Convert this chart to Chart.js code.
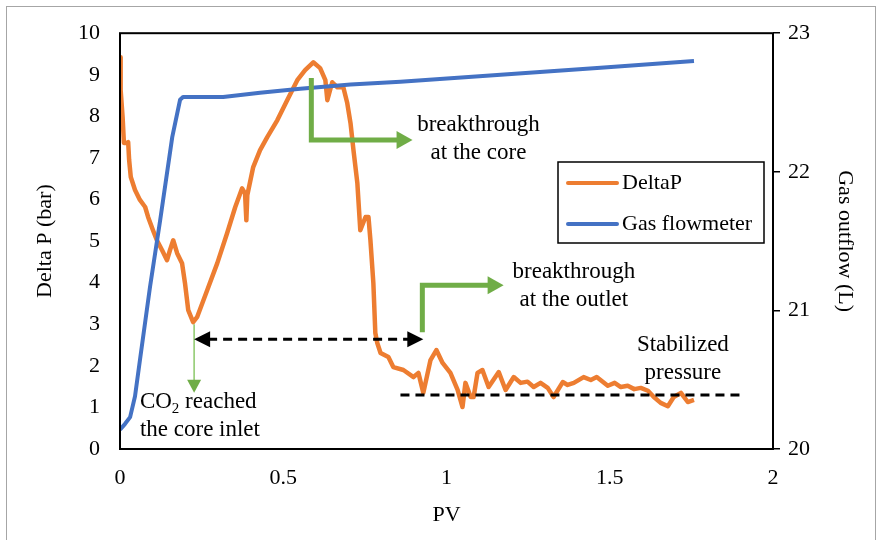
<!DOCTYPE html>
<html><head><meta charset="utf-8">
<script src="https://cdn.jsdelivr.net/npm/chart.js@4.4.1/dist/chart.umd.min.js"></script>
<style>html,body{margin:0;padding:0;background:#fff;} canvas{display:block;}</style>
</head><body>
<canvas id="c" width="882" height="540"></canvas>
<script>
// ---- data ----
const seriesNames = ['DeltaP', 'Gas flowmeter'];
const pvDelta = [0.000,0.002,0.008,0.012,0.021,0.025,0.028,0.033,0.046,0.061,0.077,0.086,0.101,0.113,0.129,0.144,0.153,0.163,0.175,0.190,0.199,0.209,0.224,0.236,0.267,0.298,0.328,0.353,0.374,0.383,0.387,0.390,0.408,0.429,0.451,0.482,0.512,0.543,0.567,0.592,0.613,0.629,0.635,0.650,0.666,0.684,0.696,0.706,0.715,0.727,0.736,0.752,0.761,0.767,0.776,0.782,0.788,0.798,0.822,0.837,0.868,0.899,0.914,0.929,0.951,0.969,0.988,1.012,1.034,1.049,1.058,1.074,1.083,1.095,1.110,1.129,1.160,1.181,1.206,1.227,1.248,1.267,1.288,1.310,1.328,1.356,1.371,1.390,1.420,1.442,1.460,1.494,1.515,1.534,1.555,1.575,1.595,1.617,1.635,1.656,1.678,1.696,1.718,1.739,1.758];
const deltaP = [9.42,8.63,7.98,7.36,7.36,7.38,6.95,6.54,6.23,5.99,5.82,5.58,5.26,5.02,4.78,4.54,4.78,5.02,4.71,4.47,3.99,3.34,3.05,3.17,3.82,4.47,5.19,5.82,6.27,6.15,5.50,6.11,6.78,7.19,7.50,7.91,8.39,8.87,9.11,9.30,9.16,8.87,8.39,8.82,8.70,8.70,8.32,7.84,7.19,6.39,5.26,5.58,5.58,5.02,3.99,2.79,2.55,2.31,2.21,1.97,1.90,1.73,1.83,1.35,2.14,2.38,2.07,1.83,1.42,1.01,1.59,1.25,1.25,1.83,1.90,1.49,1.85,1.42,1.73,1.59,1.62,1.49,1.59,1.47,1.25,1.61,1.54,1.59,1.73,1.66,1.73,1.52,1.59,1.49,1.52,1.44,1.47,1.40,1.25,1.11,1.03,1.25,1.35,1.13,1.18];
const pvGas = [0.000,0.015,0.031,0.046,0.061,0.092,0.123,0.160,0.184,0.193,0.316,0.429,0.552,0.706,0.859,1.166,1.472,1.758];
const gasOutflow = [20.14,20.18,20.23,20.38,20.64,21.17,21.65,22.25,22.52,22.54,22.54,22.57,22.60,22.63,22.65,22.70,22.75,22.80];
const xTickLabels = ['0','0.5','1','1.5','2'];
const leftTickLabels = ['0','1','2','3','4','5','6','7','8','9','10'];
const rightTickLabels = ['20','21','22','23'];

const ORANGE = '#ed7d31', BLUE = '#4472c4', GREEN = '#70ad47';
const SERIF = '"Liberation Serif", "Times New Roman", serif';

function pairs(xs, ys) {
  const n = Math.min(xs.length, ys.length); const out = [];
  for (let i = 0; i < n; i++) out.push({x: xs[i], y: ys[i]});
  return out;
}

function arrowHead(ctx, tx, ty, dir, len, hw, color) {
  ctx.save(); ctx.fillStyle = color; ctx.beginPath();
  if (dir === 'right') { ctx.moveTo(tx, ty); ctx.lineTo(tx - len, ty - hw); ctx.lineTo(tx - len, ty + hw); }
  if (dir === 'left')  { ctx.moveTo(tx, ty); ctx.lineTo(tx + len, ty - hw); ctx.lineTo(tx + len, ty + hw); }
  if (dir === 'down')  { ctx.moveTo(tx, ty); ctx.lineTo(tx - hw, ty - len); ctx.lineTo(tx + hw, ty - len); }
  ctx.closePath(); ctx.fill(); ctx.restore();
}

const framePlugin = {
  id: 'frame',
  beforeDraw(chart) {
    const ctx = chart.ctx;
    ctx.save();
    ctx.fillStyle = '#fff'; ctx.fillRect(0, 0, chart.width, chart.height);
    ctx.strokeStyle = '#a6a6a6'; ctx.lineWidth = 1;
    ctx.strokeRect(6.5, 6.5, 869, 580);
    ctx.restore();
  },
  afterDatasetsDraw(chart) {
    const ctx = chart.ctx, a = chart.chartArea;
    const X = v => chart.scales.x.getPixelForValue(v);
    const Y = v => chart.scales.y.getPixelForValue(v);
    ctx.save();
    // plot frame
    ctx.strokeStyle = '#000'; ctx.lineWidth = 2;
    ctx.strokeRect(a.left, a.top, a.right - a.left, a.bottom - a.top);

    // green elbow arrow: breakthrough at the core
    ctx.strokeStyle = GREEN; ctx.lineWidth = 5; ctx.lineJoin = 'miter'; ctx.lineCap = 'butt';
    ctx.beginPath();
    ctx.moveTo(X(0.586), Y(8.92)); ctx.lineTo(X(0.586), Y(7.43)); ctx.lineTo(X(0.896) - 12, Y(7.43));
    ctx.stroke();
    arrowHead(ctx, X(0.896), Y(7.43), 'right', 16, 9, GREEN);

    // green elbow arrow: breakthrough at the outlet
    ctx.beginPath();
    ctx.moveTo(X(0.926), Y(2.81)); ctx.lineTo(X(0.926), Y(3.94)); ctx.lineTo(X(1.175) - 12, Y(3.94));
    ctx.stroke();
    arrowHead(ctx, X(1.175), Y(3.94), 'right', 16, 9, GREEN);

    // thin green arrow down: CO2 reached the core inlet
    ctx.strokeStyle = '#8cc96a'; ctx.lineWidth = 1.5;
    ctx.beginPath(); ctx.moveTo(X(0.227), Y(3.0)); ctx.lineTo(X(0.227), Y(1.35) - 10); ctx.stroke();
    arrowHead(ctx, X(0.227), Y(1.35), 'down', 13, 7, GREEN);

    // black dashed double arrow
    ctx.strokeStyle = '#000'; ctx.lineWidth = 3; ctx.setLineDash([9, 6]);
    ctx.beginPath(); ctx.moveTo(X(0.227) + 14, Y(2.64)); ctx.lineTo(X(0.929) - 14, Y(2.64)); ctx.stroke();
    ctx.setLineDash([]);
    arrowHead(ctx, X(0.227), Y(2.64), 'left', 16, 8, '#000');
    arrowHead(ctx, X(0.929), Y(2.64), 'right', 16, 8, '#000');

    // stabilized pressure dashed line
    ctx.setLineDash([9, 6]);
    ctx.beginPath(); ctx.moveTo(X(0.859), Y(1.30)); ctx.lineTo(X(1.902), Y(1.30)); ctx.stroke();
    ctx.setLineDash([]);

    // texts
    ctx.fillStyle = '#000'; ctx.font = '23px ' + SERIF; ctx.textBaseline = 'middle'; ctx.textAlign = 'center';
    ctx.fillText('breakthrough', X(1.098), Y(7.79));
    ctx.fillText('at the core', X(1.098), Y(7.12));
    ctx.fillText('breakthrough', X(1.39), Y(4.25));
    ctx.fillText('at the outlet', X(1.39), Y(3.58));
    ctx.fillText('Stabilized', X(1.724), Y(2.50));
    ctx.fillText('pressure', X(1.724), Y(1.83));
    // CO2 reached / the core inlet
    ctx.textAlign = 'left';
    let x0 = X(0.061), y0 = Y(1.13);
    ctx.fillText('CO', x0, y0);
    let w = ctx.measureText('CO').width;
    ctx.font = '15px ' + SERIF; ctx.fillText('2', x0 + w, y0 + 7);
    let w2 = ctx.measureText('2').width;
    ctx.font = '23px ' + SERIF; ctx.fillText(' reached', x0 + w + w2, y0);
    ctx.fillText('the core inlet', x0, Y(0.46));

    // legend
    const lx = 558, ly = 162, lw = 206, lh = 81;
    ctx.fillStyle = '#fff'; ctx.fillRect(lx, ly, lw, lh);
    ctx.strokeStyle = '#000'; ctx.lineWidth = 1.5; ctx.strokeRect(lx, ly, lw, lh);
    const ds = chart.data.datasets;
    const rows = [ly + 21, ly + 62];
    ds.forEach((d, i) => {
      ctx.strokeStyle = d.borderColor; ctx.lineWidth = 4; ctx.lineCap = 'round';
      ctx.beginPath(); ctx.moveTo(lx + 10, rows[i]); ctx.lineTo(lx + 59, rows[i]); ctx.stroke();
      ctx.fillStyle = '#000'; ctx.font = '22px ' + SERIF; ctx.textAlign = 'left'; ctx.textBaseline = 'middle';
      ctx.fillText(d.label, lx + 64, rows[i]);
    });
    ctx.restore();
  }
};

new Chart(document.getElementById('c'), {
  type: 'line',
  data: {
    datasets: [
      { label: seriesNames[0], data: pairs(pvDelta, deltaP), borderColor: ORANGE, backgroundColor: ORANGE,
        borderWidth: 4.5, pointRadius: 0, tension: 0, borderJoinStyle: 'round', yAxisID: 'y', order: 1 },
      { label: seriesNames[1], data: pairs(pvGas, gasOutflow), borderColor: BLUE, backgroundColor: BLUE,
        borderWidth: 4, pointRadius: 0, tension: 0, borderJoinStyle: 'round', yAxisID: 'y1', order: 0 }
    ]
  },
  options: {
    responsive: false, animation: false,
    layout: { padding: { top: 33, left: 0, right: 0, bottom: 0 } },
    plugins: { legend: { display: false }, tooltip: { enabled: false } },
    scales: {
      x: {
        type: 'linear', min: 0, max: 2,
        afterFit: s => { s.height = 91; },
        grid: { display: true, drawOnChartArea: false, drawTicks: false },
        border: { display: false },
        ticks: { stepSize: 0.5, padding: 16, color: '#000', font: { family: SERIF, size: 22 },
                 callback: (v) => xTickLabels[Math.round(v / 0.5)] ?? '' },
        title: { display: true, text: 'PV', color: '#000', font: { family: SERIF, size: 22 }, padding: { top: 0, bottom: 12 } }
      },
      y: {
        position: 'left', min: 0, max: 10,
        afterFit: s => { s.width = 120; },
        grid: { display: true, drawOnChartArea: false, drawTicks: false },
        border: { display: false },
        ticks: { stepSize: 1, padding: 20, color: '#000', font: { family: SERIF, size: 22 },
                 callback: (v) => leftTickLabels[v] ?? '' },
        title: { display: true, text: 'Delta P (bar)', color: '#000', font: { family: SERIF, size: 22 }, padding: { top: 32, bottom: 0 } }
      },
      y1: {
        position: 'right', min: 20, max: 23,
        afterFit: s => { s.width = 109; },
        grid: { display: true, drawOnChartArea: false, drawTicks: true, tickLength: 7, color: '#000', lineWidth: 1.5 },
        border: { display: false },
        ticks: { stepSize: 1, padding: 8, color: '#000', font: { family: SERIF, size: 22 },
                 callback: (v) => rightTickLabels[v - 20] ?? '' },
        title: { display: true, text: 'Gas outflow (L)', color: '#000', font: { family: SERIF, size: 22 }, padding: { top: 24, bottom: 0 } }
      }
    }
  },
  plugins: [framePlugin]
});
</script>
</body></html>
